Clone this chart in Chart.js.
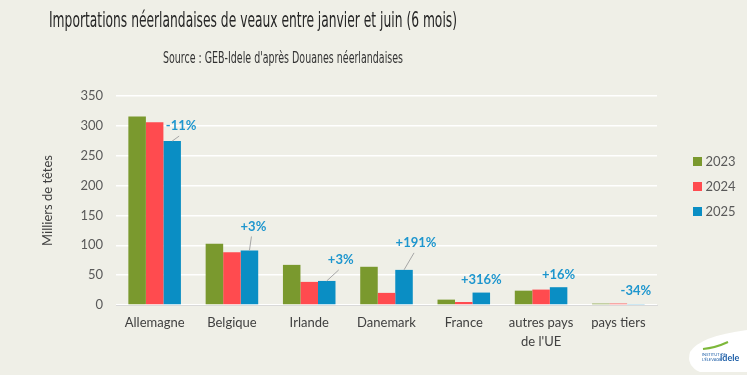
<!DOCTYPE html>
<html><head><meta charset="utf-8">
<script src="https://cdn.jsdelivr.net/npm/chart.js@4/dist/chart.umd.min.js"></script>
<style>html,body{margin:0;padding:0;background:#EFEFE7;}#wrap{width:747px;height:375px;}</style>
</head><body><div id="wrap"><canvas id="c" width="747" height="375"></canvas></div>
<script>
const categories = [['Allemagne'], ['Belgique'], ['Irlande'], ['Danemark'], ['France'], ['autres pays', "de l'UE"], ['pays tiers']];
const seriesLabels = ['2023', '2024', '2025'];
const values2023 = [315.5, 102.5, 67.2, 64.0, 9.0, 24.0, 2.3];
const values2024 = [306.0, 88.5, 38.7, 20.3, 5.0, 25.8, 2.4];
const values2025 = [274.5, 91.3, 40.3, 58.8, 20.8, 29.8, 1.6];
const changeLabels = ['-11%', '+3%', '+3%', '+191%', '+316%', '+16%', '-34%'];
const yTickValues = [0, 50, 100, 150, 200, 250, 300, 350];
const titleText = 'Importations néerlandaises de veaux entre janvier et juin (6 mois)';
const subtitleText = "Source : GEB-Idele d'après Douanes néerlandaises";
const yTitleText = 'Milliers de têtes';

const colors = ['#7A992E', '#FF4B4F', '#0A8EC4'];
// label offsets from the top of the 2025 bar (px) and whether a leader line is drawn
const annotOffsets = [[9, -15, true], [4, -24, true], [14, -21, true], [12, -27, true], [0, -13, false], [0, -12, false], [0, -13, false]];

function drawFitted(ctx, text, font, left, baseline, targetW, color) {
  ctx.save();
  ctx.font = font;
  const w = ctx.measureText(text).width;
  ctx.translate(left, baseline);
  ctx.scale(targetW / w, 1);
  ctx.fillStyle = color;
  ctx.textAlign = 'left';
  ctx.textBaseline = 'alphabetic';
  ctx.fillText(text, 0, 0);
  ctx.restore();
}

const decor = {
  id: 'decor',
  beforeDraw(chart) {
    const ctx = chart.ctx;
    ctx.save();
    ctx.fillStyle = '#EFEFE7';
    ctx.fillRect(0, 0, chart.width, chart.height);
    ctx.restore();
  },
  afterDraw(chart) {
    const ctx = chart.ctx;
    const cond = "'Liberation Sans Narrow', 'DejaVu Sans Condensed', sans-serif";
    drawFitted(ctx, titleText, '21px ' + cond, 49, 27, 408, '#262626');
    drawFitted(ctx, subtitleText, '15px ' + cond, 163, 62.5, 240, '#333333');

    // change annotations
    const meta = chart.getDatasetMeta(2);
    ctx.save();
    meta.data.forEach((bar, i) => {
      const [dx, dy, line] = annotOffsets[i];
      const lx = bar.x + dx, ly = bar.y + dy;
      if (line) {
        ctx.strokeStyle = '#A6A6A6';
        ctx.lineWidth = 1;
        ctx.beginPath();
        ctx.moveTo(bar.x, bar.y);
        ctx.lineTo(lx - 2, ly + 10);
        ctx.stroke();
      }
      ctx.font = "bold 13px Lato, 'Open Sans', sans-serif";
      ctx.fillStyle = '#1E96CE';
      ctx.textAlign = 'center';
      ctx.textBaseline = 'middle';
      ctx.fillText(changeLabels[i], lx, ly);
    });
    ctx.restore();

    // legend
    ctx.save();
    const legendY = [161.5, 186.5, 211.5];
    chart.data.datasets.forEach((ds, i) => {
      ctx.fillStyle = ds.backgroundColor;
      ctx.fillRect(693, legendY[i] - 4.5, 9, 9);
      ctx.fillStyle = '#595959';
      ctx.font = "13px Lato, 'Open Sans', sans-serif";
      ctx.textAlign = 'left';
      ctx.textBaseline = 'middle';
      ctx.fillText(ds.label, 705.5, legendY[i]);
    });
    ctx.restore();

    // logo (decorative)
    ctx.save();
    ctx.fillStyle = '#FFFFFF';
    ctx.beginPath();
    ctx.moveTo(690, 352);
    ctx.quadraticCurveTo(700, 336, 747, 330);
    ctx.lineTo(747, 372);
    ctx.lineTo(700, 372);
    ctx.quadraticCurveTo(686, 366, 690, 352);
    ctx.fill();
    ctx.strokeStyle = '#7DB83A';
    ctx.lineWidth = 2;
    ctx.beginPath();
    ctx.moveTo(703, 349);
    ctx.quadraticCurveTo(715, 348, 728, 342);
    ctx.stroke();
    ctx.font = 'bold 9px Lato, sans-serif';
    ctx.fillStyle = '#1E5FA8';
    ctx.textAlign = 'left';
    ctx.textBaseline = 'alphabetic';
    ctx.fillText('idele', 720, 361);
    ctx.font = '4px Lato, sans-serif';
    ctx.fillText('INSTITUT DE', 702, 356);
    ctx.fillText("L'ÉLEVAGE", 702, 361);
    ctx.restore();
  }
};

new Chart(document.getElementById('c'), {
  type: 'bar',
  data: {
    labels: categories,
    datasets: [
      { label: seriesLabels[0], data: values2023, backgroundColor: colors[0] },
      { label: seriesLabels[1], data: values2024, backgroundColor: colors[1] },
      { label: seriesLabels[2], data: values2025, backgroundColor: colors[2] }
    ]
  },
  options: {
    responsive: false,
    animation: false,
    layout: { padding: { top: 96, right: 90, bottom: 0, left: 36 } },
    datasets: { bar: { categoryPercentage: 0.68, barPercentage: 1.0 } },
    plugins: { legend: { display: false }, title: { display: false }, tooltip: { enabled: false } },
    scales: {
      x: {
        grid: { display: false, drawTicks: false },
        border: { display: true, color: '#D9D9D9', width: 1 },
        ticks: { color: '#404040', font: { family: "Lato, 'Open Sans', sans-serif", size: 13, lineHeight: 1.5 }, padding: 8, maxRotation: 0, autoSkip: false },
        afterFit(s) { s.height = 70; }
      },
      y: {
        min: 0, max: 350,
        afterBuildTicks(s) { s.ticks = yTickValues.map(v => ({ value: v })); },
        grid: { color: '#FFFFFF', lineWidth: 1.5, drawTicks: false },
        border: { display: false },
        ticks: { color: '#595959', font: { family: "Lato, 'Open Sans', sans-serif", size: 13 }, padding: 13 },
        title: { display: true, text: yTitleText, color: '#404040', font: { family: "Lato, 'Open Sans', sans-serif", size: 13 }, padding: { top: 4, bottom: 4 } },
        afterFit(s) { s.width = 80; }
      }
    }
  },
  plugins: [decor]
});
</script></body></html>
